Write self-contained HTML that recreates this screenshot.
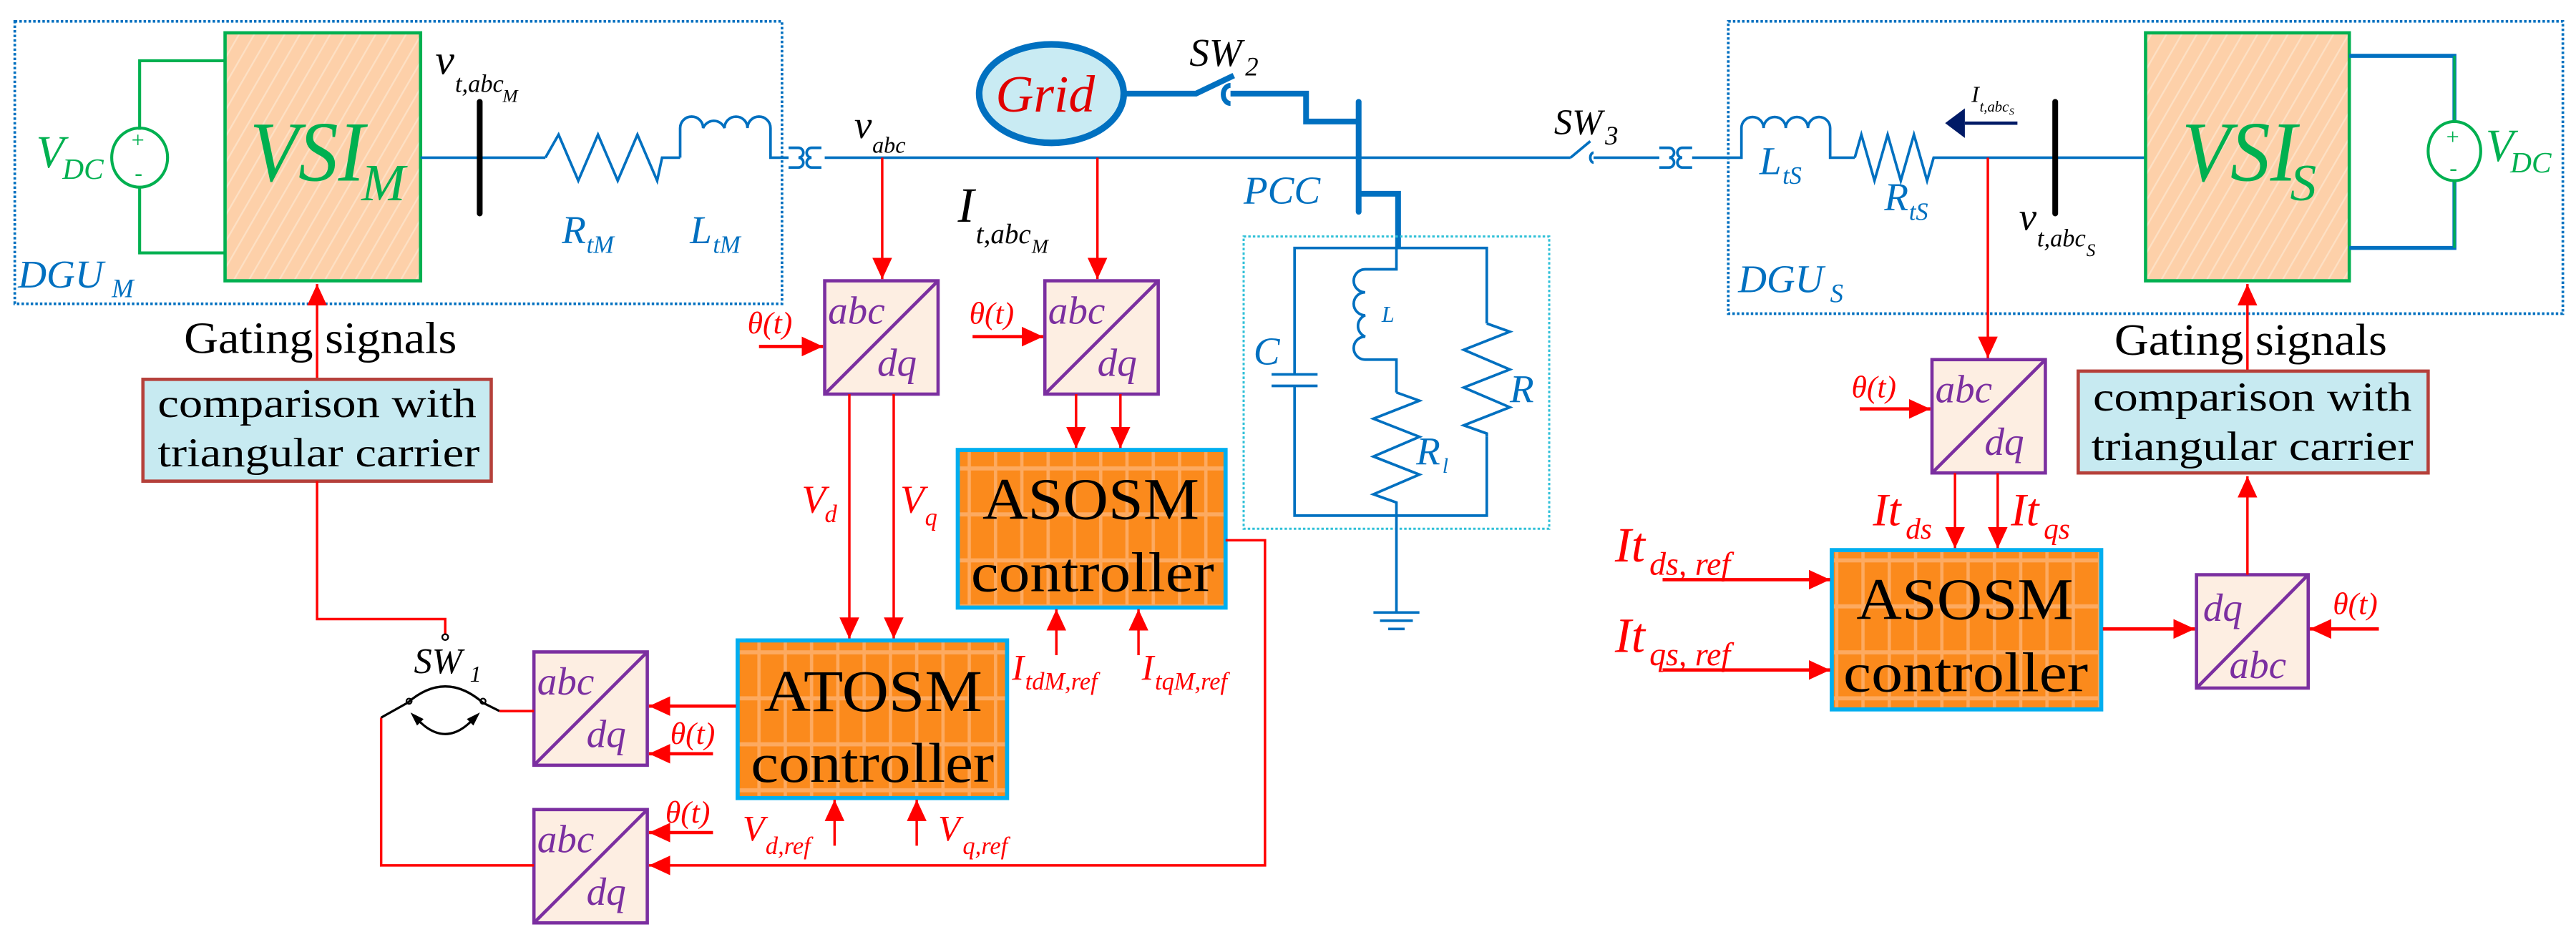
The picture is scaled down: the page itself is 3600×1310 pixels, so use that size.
<!DOCTYPE html>
<html><head><meta charset="utf-8">
<style>
html,body{margin:0;padding:0;background:#fff;}
svg{display:block;}
svg text{font-family:"Liberation Serif","DejaVu Serif","Times New Roman",serif !important;}
</style></head>
<body>
<svg width="3600" height="1310" viewBox="0 0 1568 570.6" preserveAspectRatio="none" xmlns="http://www.w3.org/2000/svg" font-family="Liberation Serif, DejaVu Serif, serif">
<defs>
<marker id="a" markerUnits="userSpaceOnUse" markerWidth="14" markerHeight="12" refX="13" refY="6" orient="auto"><path d="M0,0 L13,6 L0,12z" fill="#ff0000"/></marker>
<pattern id="grid" patternUnits="userSpaceOnUse" width="16" height="28" x="0" y="0">
<rect width="16" height="28" fill="#fb8a1c"/>
<rect x="13" width="2" height="28" fill="#fdaa60"/>
<rect y="4" width="16" height="2.5" fill="#fdaa60"/>
</pattern>
<pattern id="hatch" patternUnits="userSpaceOnUse" width="8" height="8" patternTransform="rotate(30)">
<rect width="8" height="8" fill="#fdd0a9"/>
<rect width="1" height="8" fill="#fde0c4"/>
</pattern>
</defs>

<rect x="9" y="13" width="467" height="172" fill="none" stroke="#0070c0" stroke-width="1.6" stroke-dasharray="1.5 1.3"/>
<rect x="1052" y="13" width="508" height="178" fill="none" stroke="#0070c0" stroke-width="1.6" stroke-dasharray="1.5 1.3"/>

<!-- VSI_M -->
<rect x="137" y="20" width="119" height="151" fill="url(#hatch)" stroke="#00b050" stroke-width="2"/>
<text x="152" y="110" font-style="italic" font-size="52" fill="#00b050" textLength="70" lengthAdjust="spacingAndGlyphs">VSI</text>
<text x="220" y="122" font-style="italic" font-size="32" fill="#00b050">M</text>
<polyline points="137,37 85,37 85,79" fill="none" stroke="#00b050" stroke-width="1.8"/>
<polyline points="137,154 85,154 85,114" fill="none" stroke="#00b050" stroke-width="1.8"/>
<ellipse cx="85" cy="96" rx="17" ry="18" fill="none" stroke="#00b050" stroke-width="1.8"/>
<text x="80" y="90" font-size="14" fill="#00b050">+</text>
<text x="82" y="110" font-size="14" fill="#00b050">-</text>
<text x="22" y="102" font-style="italic" font-size="28" fill="#00b050">V</text>
<text x="38" y="109" font-style="italic" font-size="18" fill="#00b050">DC</text>
<text x="11" y="175" font-style="italic" font-size="24" fill="#0070c0">DGU</text>
<text x="68" y="181" font-style="italic" font-size="16" fill="#0070c0">M</text>

<!-- main bus -->
<line x1="256" y1="96" x2="332" y2="96" stroke="#0070c0" stroke-width="1.6"/>
<line x1="292" y1="62" x2="292" y2="130" stroke="#000" stroke-width="3.5" stroke-linecap="round"/>
<polyline points="332,96 340,82 352,110 364,82 376,110 388,82 400,110 403,96 414,96" fill="none" stroke="#0070c0" stroke-width="1.6"/>
<path d="M414,96 L414,78 A7,7 0 0 1 428,78 A7,7 0 0 1 441,78 A7,7 0 0 1 455,78 A7,7 0 0 1 469,78 L469,96 L480,96" fill="none" stroke="#0070c0" stroke-width="1.6"/>
<path d="M480,90 L486,90 A3,3 0 0 1 486,96 A3,3 0 0 1 486,102 L480,102 M500,90 L494,90 A3,3 0 0 0 494,96 A3,3 0 0 0 494,102 L500,102" fill="none" stroke="#0070c0" stroke-width="1.6"/>
<line x1="502" y1="96" x2="956" y2="96" stroke="#0070c0" stroke-width="1.6"/>
<text x="265" y="45" font-style="italic" font-size="26">v</text>
<text x="277" y="56" font-style="italic" font-size="15">t,abc</text>
<text x="306" y="62" font-style="italic" font-size="11">M</text>
<text x="342" y="148" font-style="italic" font-size="24" fill="#0070c0">R</text>
<text x="357" y="154" font-style="italic" font-size="15" fill="#0070c0">tM</text>
<text x="420" y="148" font-style="italic" font-size="24" fill="#0070c0">L</text>
<text x="434" y="154" font-style="italic" font-size="15" fill="#0070c0">tM</text>
<text x="520" y="84" font-style="italic" font-size="24">v</text>
<text x="531" y="93" font-style="italic" font-size="14">abc</text>

<!-- Grid -->
<ellipse cx="640" cy="57" rx="44" ry="30" fill="#c9ebf3" stroke="#0070c0" stroke-width="4"/>
<text x="606" y="68" font-style="italic" font-size="32" fill="#e00000">Grid</text>
<path d="M684,57 L728,57 L751,46" fill="none" stroke="#0070c0" stroke-width="3.5"/>
<path d="M749,52 A4,5 0 0 0 749,63" fill="none" stroke="#0070c0" stroke-width="3"/>
<polyline points="749,57 795,57 795,74 827,74" fill="none" stroke="#0070c0" stroke-width="3.5"/>
<text x="724" y="40" font-style="italic" font-size="24">SW</text>
<text x="758" y="46" font-style="italic" font-size="16">2</text>
<line x1="827" y1="62" x2="827" y2="129" stroke="#0070c0" stroke-width="3.5" stroke-linecap="round"/>
<polyline points="827,118 851,118 851,151" fill="none" stroke="#0070c0" stroke-width="3.5"/>
<text x="757" y="124" font-style="italic" font-size="24" fill="#0070c0">PCC</text>

<!-- Load -->
<rect x="757" y="144" width="186" height="178" fill="none" stroke="#2fc0d8" stroke-width="1.3" stroke-dasharray="1.5 1.3"/>
<polyline points="788,228 788,151 905,151 905,197" fill="none" stroke="#0070c0" stroke-width="1.6"/>
<line x1="774" y1="228" x2="802" y2="228" stroke="#0070c0" stroke-width="1.6"/>
<line x1="774" y1="235" x2="802" y2="235" stroke="#0070c0" stroke-width="1.6"/>
<polyline points="788,235 788,314 905,314 905,266" fill="none" stroke="#0070c0" stroke-width="1.6"/>
<path d="M850,151 L850,164 L831,164 A7,7 0 0 0 831,178 A7,7 0 0 0 831,192 A7,7 0 0 0 831,205 A7,7 0 0 0 831,219 L850,219 L850,239" fill="none" stroke="#0070c0" stroke-width="1.6"/>
<polyline points="850,239 864,244 836,255 864,266 836,278 864,289 836,301 850,306 850,373" fill="none" stroke="#0070c0" stroke-width="1.6"/>
<polyline points="905,197 919,202 891,213 919,225 891,236 919,248 891,259 905,264 905,266" fill="none" stroke="#0070c0" stroke-width="1.6"/>
<line x1="836" y1="373" x2="864" y2="373" stroke="#0070c0" stroke-width="1.6"/>
<line x1="840" y1="378" x2="860" y2="378" stroke="#0070c0" stroke-width="1.6"/>
<line x1="845" y1="383" x2="855" y2="383" stroke="#0070c0" stroke-width="1.6"/>
<text x="763" y="222" font-style="italic" font-size="24" fill="#0070c0">C</text>
<text x="841" y="196" font-style="italic" font-size="14" fill="#0070c0">L</text>
<text x="862" y="283" font-style="italic" font-size="24" fill="#0070c0">R</text>
<text x="878" y="288" font-style="italic" font-size="13" fill="#0070c0">l</text>
<text x="919" y="245" font-style="italic" font-size="24" fill="#0070c0">R</text>

<!-- SW3 and slave line -->
<line x1="956" y1="96" x2="968" y2="86" stroke="#0070c0" stroke-width="1.6"/>
<path d="M970,93 A2,3 0 0 0 970,99" fill="none" stroke="#0070c0" stroke-width="1.6"/>
<line x1="970" y1="96" x2="1010" y2="96" stroke="#0070c0" stroke-width="1.6"/>
<text x="946" y="82" font-style="italic" font-size="22">SW</text>
<text x="977" y="88" font-style="italic" font-size="16">3</text>
<path d="M1010,90 L1016,90 A3,3 0 0 1 1016,96 A3,3 0 0 1 1016,102 L1010,102 M1030,90 L1024,90 A3,3 0 0 0 1024,96 A3,3 0 0 0 1024,102 L1030,102" fill="none" stroke="#0070c0" stroke-width="1.6"/>
<path d="M1030,96 L1060,96 L1060,78 A6.7,6.7 0 0 1 1073.5,78 A6.7,6.7 0 0 1 1087,78 A6.7,6.7 0 0 1 1100.5,78 A6.7,6.7 0 0 1 1114,78 L1114,96 L1129,96" fill="none" stroke="#0070c0" stroke-width="1.6"/>
<polyline points="1129,96 1133,82 1141,110 1149,82 1157,110 1165,82 1173,110 1177,96 1306,96" fill="none" stroke="#0070c0" stroke-width="1.6"/>
<line x1="1251" y1="62" x2="1251" y2="130" stroke="#000" stroke-width="3.5" stroke-linecap="round"/>
<line x1="1196" y1="75" x2="1228" y2="75" stroke="#001a66" stroke-width="2"/>
<path d="M1184,75 L1196,66 L1196,84z" fill="#001a66"/>
<text x="1200" y="62" font-style="italic" font-size="14">I</text>
<text x="1205" y="68" font-style="italic" font-size="9">t,abc</text>
<text x="1223" y="70" font-style="italic" font-size="6">S</text>
<text x="1071" y="106" font-style="italic" font-size="24" fill="#0070c0">L</text>
<text x="1085" y="112" font-style="italic" font-size="15" fill="#0070c0">tS</text>
<text x="1147" y="128" font-style="italic" font-size="24" fill="#0070c0">R</text>
<text x="1162" y="134" font-style="italic" font-size="15" fill="#0070c0">tS</text>
<text x="1229" y="140" font-style="italic" font-size="24">v</text>
<text x="1240" y="150" font-style="italic" font-size="15">t,abc</text>
<text x="1270" y="156" font-style="italic" font-size="11">S</text>
<text x="1058" y="178" font-style="italic" font-size="24" fill="#0070c0">DGU</text>
<text x="1114" y="184" font-style="italic" font-size="16" fill="#0070c0">S</text>

<!-- VSI_S -->
<rect x="1306" y="20" width="124" height="151" fill="url(#hatch)" stroke="#00b050" stroke-width="2"/>
<text x="1328" y="110" font-style="italic" font-size="52" fill="#00b050" textLength="70" lengthAdjust="spacingAndGlyphs">VSI</text>
<text x="1394" y="122" font-style="italic" font-size="32" fill="#00b050">S</text>
<polyline points="1430,34 1494,34 1494,74" fill="none" stroke="#0070c0" stroke-width="2.4"/>
<polyline points="1430,151 1494,151 1494,110" fill="none" stroke="#0070c0" stroke-width="2.4"/>
<line x1="1494" y1="34" x2="1494" y2="74" stroke="#00b050" stroke-width="1.4"/>
<line x1="1494" y1="110" x2="1494" y2="151" stroke="#00b050" stroke-width="1.4"/>
<ellipse cx="1494" cy="92" rx="16" ry="18" fill="none" stroke="#00b050" stroke-width="1.8"/>
<text x="1489" y="88" font-size="14" fill="#00b050">+</text>
<text x="1491" y="107" font-size="14" fill="#00b050">-</text>
<text x="1513" y="98" font-style="italic" font-size="28" fill="#00b050">V</text>
<text x="1528" y="105" font-style="italic" font-size="18" fill="#00b050">DC</text>

<!-- Gating / comparison M -->
<line x1="193" y1="231" x2="193" y2="173" stroke="#ff0000" stroke-width="1.5" marker-end="url(#a)"/>
<text x="112" y="215" font-size="27" textLength="166" lengthAdjust="spacingAndGlyphs">Gating signals</text>
<rect x="87" y="231" width="212" height="62" fill="#c7eaf1" stroke="#b5403a" stroke-width="2"/>
<text x="96" y="254" font-size="25" textLength="194" lengthAdjust="spacingAndGlyphs">comparison with</text>
<text x="96" y="284" font-size="25" textLength="196" lengthAdjust="spacingAndGlyphs">triangular carrier</text>
<!-- Gating / comparison S -->
<line x1="1368" y1="226" x2="1368" y2="173" stroke="#ff0000" stroke-width="1.5" marker-end="url(#a)"/>
<text x="1287" y="216" font-size="27" textLength="166" lengthAdjust="spacingAndGlyphs">Gating signals</text>
<rect x="1265" y="226" width="213" height="62" fill="#c7eaf1" stroke="#b5403a" stroke-width="2"/>
<text x="1274" y="250" font-size="25" textLength="194" lengthAdjust="spacingAndGlyphs">comparison with</text>
<text x="1273" y="280" font-size="25" textLength="196" lengthAdjust="spacingAndGlyphs">triangular carrier</text>

<!-- abc/dq box 1 -->
<line x1="537" y1="96" x2="537" y2="170" stroke="#ff0000" stroke-width="1.5" marker-end="url(#a)"/>
<rect x="502" y="171" width="69" height="69" fill="#fdeee2" stroke="#7b2fa0" stroke-width="2"/>
<line x1="502" y1="240" x2="571" y2="171" stroke="#7b2fa0" stroke-width="2"/>
<text x="504" y="197" font-style="italic" font-size="24" fill="#7b2fa0">abc</text>
<text x="534" y="229" font-style="italic" font-size="24" fill="#7b2fa0">dq</text>
<line x1="462" y1="211" x2="501" y2="211" stroke="#ff0000" stroke-width="2" marker-end="url(#a)"/>
<text x="455" y="203" font-style="italic" font-size="19" fill="#ff0000">θ(t)</text>
<!-- abc/dq box 2 -->
<line x1="668" y1="96" x2="668" y2="170" stroke="#ff0000" stroke-width="1.5" marker-end="url(#a)"/>
<rect x="636" y="171" width="69" height="69" fill="#fdeee2" stroke="#7b2fa0" stroke-width="2"/>
<line x1="636" y1="240" x2="705" y2="171" stroke="#7b2fa0" stroke-width="2"/>
<text x="638" y="197" font-style="italic" font-size="24" fill="#7b2fa0">abc</text>
<text x="668" y="229" font-style="italic" font-size="24" fill="#7b2fa0">dq</text>
<line x1="592" y1="205" x2="635" y2="205" stroke="#ff0000" stroke-width="2" marker-end="url(#a)"/>
<text x="590" y="197" font-style="italic" font-size="19" fill="#ff0000">θ(t)</text>
<text x="583" y="135" font-style="italic" font-size="30">I</text>
<text x="594" y="148" font-style="italic" font-size="17">t,abc</text>
<text x="628" y="154" font-style="italic" font-size="12">M</text>

<!-- ASOSM M -->
<line x1="655" y1="240" x2="655" y2="273" stroke="#ff0000" stroke-width="1.5" marker-end="url(#a)"/>
<line x1="682" y1="240" x2="682" y2="273" stroke="#ff0000" stroke-width="1.5" marker-end="url(#a)"/>
<rect x="583" y="274" width="163" height="96" fill="url(#grid)" stroke="#00aeef" stroke-width="2.5"/>
<text x="598" y="316" font-size="36" textLength="132" lengthAdjust="spacingAndGlyphs">ASOSM</text>
<text x="591" y="360" font-size="34" textLength="148" lengthAdjust="spacingAndGlyphs">controller</text>
<line x1="643" y1="399" x2="643" y2="371" stroke="#ff0000" stroke-width="1.5" marker-end="url(#a)"/>
<line x1="693" y1="399" x2="693" y2="371" stroke="#ff0000" stroke-width="1.5" marker-end="url(#a)"/>
<text x="616" y="414" font-style="italic" font-size="22" fill="#ff0000">I</text>
<text x="624" y="420" font-style="italic" font-size="15" fill="#ff0000">tdM,ref</text>
<text x="695" y="414" font-style="italic" font-size="22" fill="#ff0000">I</text>
<text x="703" y="420" font-style="italic" font-size="15" fill="#ff0000">tqM,ref</text>

<!-- Vd Vq -->
<line x1="517" y1="240" x2="517" y2="389" stroke="#ff0000" stroke-width="1.5" marker-end="url(#a)"/>
<line x1="544" y1="240" x2="544" y2="389" stroke="#ff0000" stroke-width="1.5" marker-end="url(#a)"/>
<text x="488" y="312" font-style="italic" font-size="24" fill="#ff0000">V</text>
<text x="502" y="318" font-style="italic" font-size="15" fill="#ff0000">d</text>
<text x="548" y="312" font-style="italic" font-size="24" fill="#ff0000">V</text>
<text x="563" y="320" font-style="italic" font-size="15" fill="#ff0000">q</text>

<!-- ATOSM -->
<rect x="449" y="390" width="164" height="96" fill="url(#grid)" stroke="#00aeef" stroke-width="2.5"/>
<text x="465" y="433" font-size="36" textLength="133" lengthAdjust="spacingAndGlyphs">ATOSM</text>
<text x="457" y="476" font-size="34" textLength="148" lengthAdjust="spacingAndGlyphs">controller</text>
<line x1="508" y1="515" x2="508" y2="487" stroke="#ff0000" stroke-width="1.5" marker-end="url(#a)"/>
<line x1="558" y1="515" x2="558" y2="487" stroke="#ff0000" stroke-width="1.5" marker-end="url(#a)"/>
<text x="452" y="512" font-style="italic" font-size="22" fill="#ff0000">V</text>
<text x="466" y="520" font-style="italic" font-size="15" fill="#ff0000">d,ref</text>
<text x="571" y="512" font-style="italic" font-size="22" fill="#ff0000">V</text>
<text x="586" y="520" font-style="italic" font-size="15" fill="#ff0000">q,ref</text>

<!-- abc/dq box 3 -->
<rect x="325" y="397" width="69" height="69" fill="#fdeee2" stroke="#7b2fa0" stroke-width="2"/>
<line x1="325" y1="466" x2="394" y2="397" stroke="#7b2fa0" stroke-width="2"/>
<text x="327" y="423" font-style="italic" font-size="24" fill="#7b2fa0">abc</text>
<text x="357" y="455" font-style="italic" font-size="24" fill="#7b2fa0">dq</text>
<line x1="448" y1="430" x2="395" y2="430" stroke="#ff0000" stroke-width="2" marker-end="url(#a)"/>
<line x1="434" y1="459" x2="395" y2="459" stroke="#ff0000" stroke-width="2" marker-end="url(#a)"/>
<text x="408" y="453" font-style="italic" font-size="19" fill="#ff0000">θ(t)</text>
<!-- abc/dq box 4 -->
<rect x="325" y="493" width="69" height="69" fill="#fdeee2" stroke="#7b2fa0" stroke-width="2"/>
<line x1="325" y1="562" x2="394" y2="493" stroke="#7b2fa0" stroke-width="2"/>
<text x="327" y="519" font-style="italic" font-size="24" fill="#7b2fa0">abc</text>
<text x="357" y="551" font-style="italic" font-size="24" fill="#7b2fa0">dq</text>
<line x1="434" y1="507" x2="395" y2="507" stroke="#ff0000" stroke-width="2" marker-end="url(#a)"/>
<text x="405" y="501" font-style="italic" font-size="19" fill="#ff0000">θ(t)</text>
<polyline points="746,329 770,329 770,527 395,527" fill="none" stroke="#ff0000" stroke-width="1.5" marker-end="url(#a)"/>
<polyline points="325,527 232,527 232,437" fill="none" stroke="#ff0000" stroke-width="1.5"/>

<!-- SW1 -->
<polyline points="193,293 193,377 271,377 271,386" fill="none" stroke="#ff0000" stroke-width="1.5"/>
<circle cx="271" cy="388" r="1.8" fill="none" stroke="#000" stroke-width="1"/>
<text x="252" y="410" font-style="italic" font-size="22">SW</text>
<text x="286" y="415" font-style="italic" font-size="14">1</text>
<line x1="232" y1="437" x2="248" y2="428" stroke="#000" stroke-width="1.4"/>
<path d="M248,428 Q271,408 294,428" fill="none" stroke="#000" stroke-width="1.4"/>
<circle cx="249" cy="427" r="1.6" fill="none" stroke="#000"/>
<circle cx="294" cy="427" r="1.6" fill="none" stroke="#000"/>
<line x1="294" y1="428" x2="304" y2="433" stroke="#000" stroke-width="1.4"/>
<line x1="304" y1="433" x2="325" y2="433" stroke="#ff0000" stroke-width="1.5"/>
<path d="M254,438 Q271,456 288,438" fill="none" stroke="#000" stroke-width="1.4"/>
<path d="M251,435 L254,441 L257,438z M291,435 L288,441 L285,438z" fill="#000" stroke="#000" stroke-width="1"/>

<!-- slave control -->
<line x1="1210" y1="96" x2="1210" y2="218" stroke="#ff0000" stroke-width="1.5" marker-end="url(#a)"/>
<rect x="1176" y="219" width="69" height="69" fill="#fdeee2" stroke="#7b2fa0" stroke-width="2"/>
<line x1="1176" y1="288" x2="1245" y2="219" stroke="#7b2fa0" stroke-width="2"/>
<text x="1178" y="245" font-style="italic" font-size="24" fill="#7b2fa0">abc</text>
<text x="1208" y="277" font-style="italic" font-size="24" fill="#7b2fa0">dq</text>
<line x1="1132" y1="249" x2="1175" y2="249" stroke="#ff0000" stroke-width="2" marker-end="url(#a)"/>
<text x="1127" y="242" font-style="italic" font-size="19" fill="#ff0000">θ(t)</text>
<line x1="1190" y1="288" x2="1190" y2="334" stroke="#ff0000" stroke-width="1.5" marker-end="url(#a)"/>
<line x1="1216" y1="288" x2="1216" y2="334" stroke="#ff0000" stroke-width="1.5" marker-end="url(#a)"/>
<text x="1140" y="320" font-style="italic" font-size="28" fill="#ff0000">It</text>
<text x="1160" y="328" font-style="italic" font-size="18" fill="#ff0000">ds</text>
<text x="1224" y="320" font-style="italic" font-size="28" fill="#ff0000">It</text>
<text x="1244" y="328" font-style="italic" font-size="18" fill="#ff0000">qs</text>
<rect x="1115" y="335" width="164" height="97" fill="url(#grid)" stroke="#00aeef" stroke-width="2.5"/>
<text x="1130" y="377" font-size="36" textLength="132" lengthAdjust="spacingAndGlyphs">ASOSM</text>
<text x="1122" y="421" font-size="34" textLength="149" lengthAdjust="spacingAndGlyphs">controller</text>
<line x1="1012" y1="353" x2="1114" y2="353" stroke="#ff0000" stroke-width="2" marker-end="url(#a)"/>
<line x1="1012" y1="408" x2="1114" y2="408" stroke="#ff0000" stroke-width="2" marker-end="url(#a)"/>
<text x="983" y="342" font-style="italic" font-size="30" fill="#ff0000">It</text>
<text x="1004" y="350" font-style="italic" font-size="20" fill="#ff0000">ds, ref</text>
<text x="983" y="397" font-style="italic" font-size="30" fill="#ff0000">It</text>
<text x="1004" y="405" font-style="italic" font-size="20" fill="#ff0000">qs, ref</text>
<line x1="1280" y1="383" x2="1336" y2="383" stroke="#ff0000" stroke-width="2" marker-end="url(#a)"/>
<rect x="1337" y="350" width="68" height="69" fill="#fdeee2" stroke="#7b2fa0" stroke-width="2"/>
<line x1="1337" y1="419" x2="1405" y2="350" stroke="#7b2fa0" stroke-width="2"/>
<text x="1341" y="378" font-style="italic" font-size="24" fill="#7b2fa0">dq</text>
<text x="1357" y="413" font-style="italic" font-size="24" fill="#7b2fa0">abc</text>
<line x1="1448" y1="383" x2="1406" y2="383" stroke="#ff0000" stroke-width="2" marker-end="url(#a)"/>
<text x="1420" y="374" font-style="italic" font-size="19" fill="#ff0000">θ(t)</text>
<line x1="1368" y1="350" x2="1368" y2="290" stroke="#ff0000" stroke-width="1.5" marker-end="url(#a)"/>
</svg>
</body></html>
